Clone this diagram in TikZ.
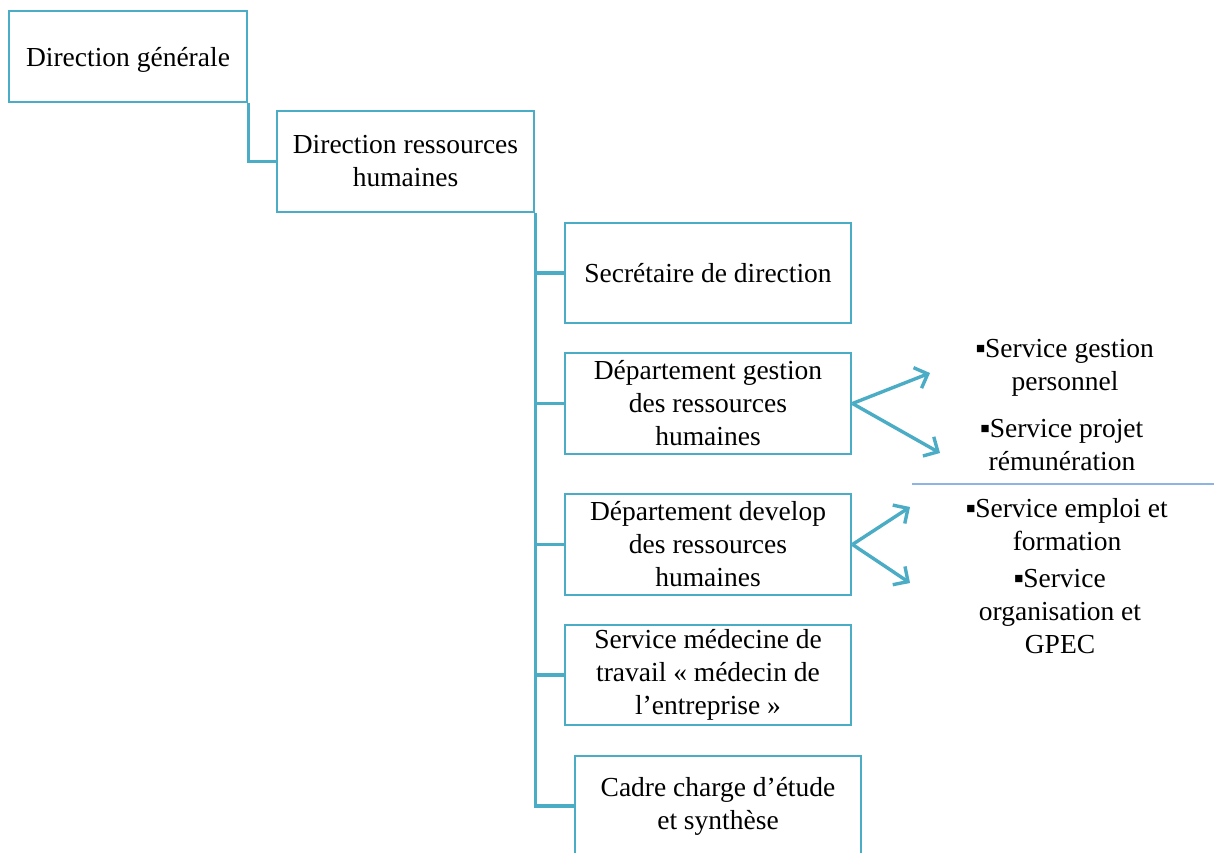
\documentclass[tikz,border=0pt]{standalone}
\usepackage{fontspec}
\setmainfont{Liberation Serif}
\usetikzlibrary{arrows.meta,positioning}
\definecolor{orgblue}{HTML}{4BACC6}
\definecolor{sepblue}{HTML}{8EB4E3}
\newcommand{\sqmark}{\raisebox{4pt}{\fontsize{15}{15}\selectfont■}}

\begin{document}
\begin{tikzpicture}[x=1pt,y=1pt,>={Straight Barb[length=11pt,width=22pt]},font=\fontsize{27.5}{33}\selectfont]
\tikzstyle{unit}=[draw=orgblue,line width=2.9pt,align=center,inner sep=0pt,minimum width=286pt,minimum height=100pt]
\tikzstyle{link}=[draw=orgblue,line width=3.4pt]
\tikzstyle{sub}=[align=center,inner sep=0pt]
\useasboundingbox (0,0) rectangle (1214,-853);
\node[unit,minimum width=238pt,minimum height=91pt,text height=26pt] (dg) at (128,-56.5) {Direction générale};
\node[unit,minimum width=257pt,minimum height=101pt] (drh) at (405.5,-161.5) {Direction ressources\\humaines};
\node[unit] (sec) at (708,-273) {Secrétaire de direction};
\node[unit,minimum height=101pt] (depg) at (708,-403.5) {Département gestion\\des ressources\\humaines};
\node[unit,minimum height=101pt] (depd) at (708,-544.5) {Département develop\\des ressources\\humaines};
\node[unit] (med) at (708,-675) {Service médecine de\\travail « médecin de\\l’entreprise »};
\node[unit] (cadre) at (718,-806) {Cadre charge d’étude\\et synthèse};
% services rattaches
\node[sub] (sgp) at (1065,-368) {\sqmark Service gestion\\personnel};
\node[sub] (spr) at (1062,-445) {\sqmark Service projet\\rémunération};
\node[sub] (sef) at (1067,-525) {\sqmark Service emploi et\\formation};
\node[sub] (sog) at (1060,-612) {\sqmark Service\\organisation et\\GPEC};
\coordinate (g1) at (930,-373);
\coordinate (g2) at (940,-453);
\coordinate (d1) at (910,-507);
\coordinate (d2) at (910,-583);
\draw[link] (dg.south east) |- (drh.west);
\draw[link] (drh.south east) |- (sec.west);
\draw[link] (drh.south east) |- (depg.west);
\draw[link] (drh.south east) |- (depd.west);
\draw[link] (drh.south east) |- (med.west);
\draw[link] (drh.south east) |- (cadre.west);
\draw[link,->] (depg.east) -- (g1);
\draw[link,->] (depg.east) -- (g2);
\draw[link,->] (depd.east) -- (d1);
\draw[link,->] (depd.east) -- (d2);
\draw[sepblue,line width=1.3pt] (912,-484) -- (1214,-484);
\end{tikzpicture}
\end{document}
